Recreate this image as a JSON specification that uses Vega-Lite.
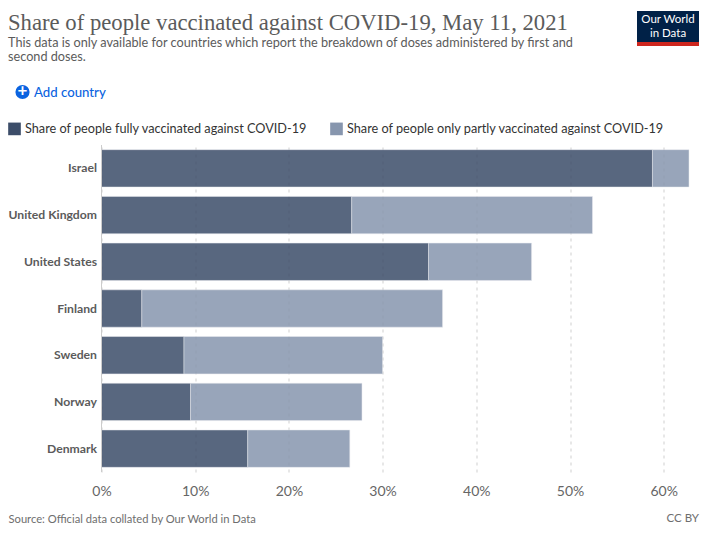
{"$schema":"https://vega.github.io/schema/vega-lite/v6.json","width":587.5,"height":327,"autosize":"none","padding":{"left":101.5,"top":145,"right":25,"bottom":63},"background":"white",
"title":{"text":"Share of people vaccinated against COVID-19, May 11, 2021","subtitle":["This data is only available for countries which report the breakdown of doses administered by first and","second doses."],"anchor":"start","frame":"group","dx":-93.5,"offset":-53,"font":"Liberation Serif","fontSize":22.7,"fontWeight":"normal","color":"#5b5b5b","subtitleFont":"Lato","subtitleFontSize":12.7,"subtitleColor":"#5b5b5b","subtitleLineHeight":14.5,"subtitlePadding":2},
"config":{"view":{"stroke":null},"font":"Lato"},
"datasets":{"shares":[
{"country":"Israel","series":"Share of people fully vaccinated against COVID-19","value":58.8},
{"country":"Israel","series":"Share of people only partly vaccinated against COVID-19","value":3.9},
{"country":"United Kingdom","series":"Share of people fully vaccinated against COVID-19","value":26.7},
{"country":"United Kingdom","series":"Share of people only partly vaccinated against COVID-19","value":25.7},
{"country":"United States","series":"Share of people fully vaccinated against COVID-19","value":34.9},
{"country":"United States","series":"Share of people only partly vaccinated against COVID-19","value":11.0},
{"country":"Finland","series":"Share of people fully vaccinated against COVID-19","value":4.3},
{"country":"Finland","series":"Share of people only partly vaccinated against COVID-19","value":32.1},
{"country":"Sweden","series":"Share of people fully vaccinated against COVID-19","value":8.8},
{"country":"Sweden","series":"Share of people only partly vaccinated against COVID-19","value":21.2},
{"country":"Norway","series":"Share of people fully vaccinated against COVID-19","value":9.5},
{"country":"Norway","series":"Share of people only partly vaccinated against COVID-19","value":18.3},
{"country":"Denmark","series":"Share of people fully vaccinated against COVID-19","value":15.6},
{"country":"Denmark","series":"Share of people only partly vaccinated against COVID-19","value":10.9}]},
"layer":[
{"data":{"name":"shares"},"mark":{"type":"bar","opacity":0.85,"stroke":"#e6e9ef","strokeWidth":0.5},
"encoding":{
"y":{"field":"country","type":"nominal","sort":["Israel","United Kingdom","United States","Finland","Sweden","Norway","Denmark"],"scale":{"paddingInner":0.2,"paddingOuter":0.1},"axis":{"title":null,"ticks":false,"domain":false,"labelFont":"Lato","labelFontSize":12.2,"labelFontWeight":"bold","labelColor":"#5b5b5b","labelPadding":5,"grid":false}},
"x":{"field":"value","type":"quantitative","stack":"zero","scale":{"domain":[0,62.7],"nice":false,"zero":true},"axis":{"values":[0,10,20,30,40,50,60],"labelExpr":"datum.value + '%'","title":"Source: Official data collated by Our World in Data","titleFont":"Lato","titleFontSize":11.2,"titleFontWeight":"normal","titleColor":"#6e6e6e","titleAnchor":"start","titleAlign":"left","titleX":-93.5,"titleY":47,"titleBaseline":"middle","labelFont":"Lato","labelFontSize":14,"labelColor":"#666666","labelPadding":12,"labelFlush":false,"ticks":false,"domain":false,"grid":true,"gridColor":"#cfcfcf","gridDash":[3,4],"zindex":0}},
"color":{"field":"series","type":"nominal","scale":{"domain":["Share of people fully vaccinated against COVID-19","Share of people only partly vaccinated against COVID-19"],"range":["#3c4d69","#8796ae"]},"legend":{"orient":"none","legendX":-93.5,"legendY":-23,"direction":"horizontal","title":null,"symbolType":"square","symbolSize":160,"symbolOpacity":1,"symbolStrokeWidth":0,"labelFont":"Lato","labelFontSize":12.7,"labelColor":"#333333","labelLimit":400,"columnPadding":22,"columns":2}},
"order":{"field":"series"}}},
{"data":{"values":[{"note":"zero line"}]},"mark":{"type":"rule","color":"#cccccc"},"encoding":{"x":{"datum":0},"y":{"value":0},"y2":{"value":327}}},
{"data":{"values":[{"note":"add button"}]},"mark":{"type":"point","filled":true,"shape":"circle","size":200,"color":"#0b63e0","opacity":1},"encoding":{"x":{"value":-79},"y":{"value":-53}}},
{"data":{"values":[{"label":"+"}]},"mark":{"type":"text","color":"white","font":"Lato","fontSize":17,"fontWeight":"bold","align":"center","baseline":"middle"},"encoding":{"text":{"field":"label"},"x":{"value":-79},"y":{"value":-54}}},
{"data":{"values":[{"label":"Add country"}]},"mark":{"type":"text","color":"#0b63e0","font":"Lato","fontSize":13.2,"fontWeight":500,"align":"left","baseline":"middle"},"encoding":{"text":{"field":"label"},"x":{"value":-67.5},"y":{"value":-52.5}}},
{"data":{"values":[{"note":"logo"}]},"mark":{"type":"rect","color":"#002147"},"encoding":{"x":{"value":535.5},"x2":{"value":597.5},"y":{"value":-134},"y2":{"value":-99}}},
{"data":{"values":[{"note":"logo strip"}]},"mark":{"type":"rect","color":"#ce261e"},"encoding":{"x":{"value":535.5},"x2":{"value":597.5},"y":{"value":-103},"y2":{"value":-99}}},
{"data":{"values":[{"label":"Our World"}]},"mark":{"type":"text","color":"white","font":"Lato","fontSize":11.5,"align":"center","baseline":"middle"},"encoding":{"text":{"field":"label"},"x":{"value":566.5},"y":{"value":-125}}},
{"data":{"values":[{"label":"in Data"}]},"mark":{"type":"text","color":"white","font":"Lato","fontSize":11.5,"align":"center","baseline":"middle"},"encoding":{"text":{"field":"label"},"x":{"value":566.5},"y":{"value":-111}}},
{"data":{"values":[{"label":"CC BY"}]},"mark":{"type":"text","color":"#6e6e6e","font":"Lato","fontSize":11.5,"align":"right","baseline":"middle"},"encoding":{"text":{"field":"label"},"x":{"value":597.5},"y":{"value":374}}}
]}
